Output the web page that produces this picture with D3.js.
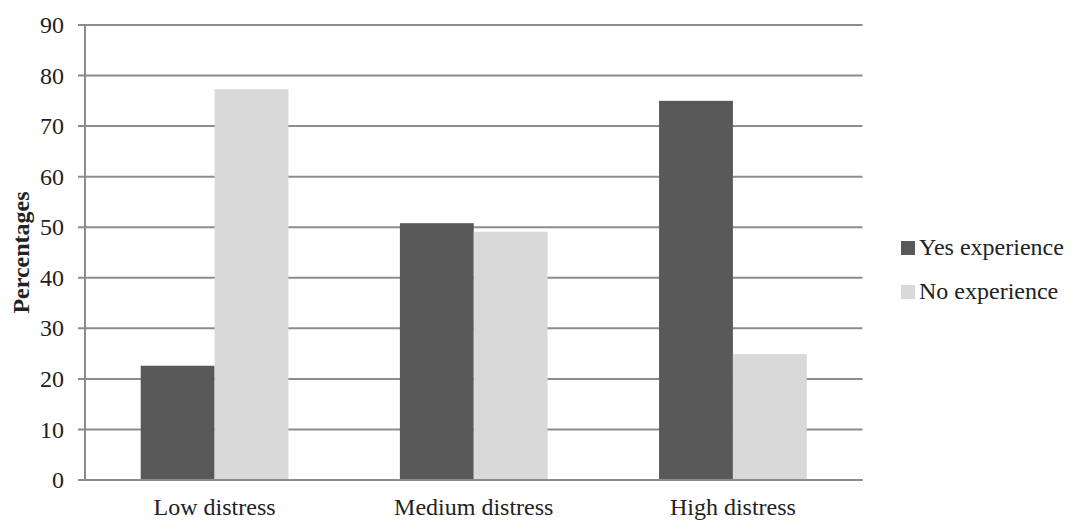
<!DOCTYPE html>
<html><head><meta charset="utf-8">
<script src="https://cdn.jsdelivr.net/npm/d3@7"></script>
<style>body{margin:0;background:#fff}svg{display:block}text{font-family:"Liberation Serif","Times New Roman",serif;fill:#222}</style>
</head><body><svg id="c" width="1075" height="521"></svg>
<script>
const categories = ["Low distress", "Medium distress", "High distress"];
const seriesNames = ["Yes experience", "No experience"];
const yesValues = [22.6, 50.8, 75.0];
const noValues = [77.3, 49.1, 24.9];
const yTicks = [0, 10, 20, 30, 40, 50, 60, 70, 80, 90];
const colors = ["#595959", "#d9d9d9"];

(function () {
const svg = d3.select("#c");
const mLeft = 85, mRight = 862.5, mTop = 25, mBottom = 480;
const x0 = d3.scaleBand().domain(categories).range([mLeft, mRight]).padding(0);
const bw = x0.bandwidth();
const groupW = bw * 0.57;
const x1 = d3.scaleBand().domain(seriesNames).range([0, groupW]).padding(0);
const y = d3.scaleLinear().domain([0, 90]).range([mBottom, mTop]);
const gridColor = "#8c8c8c";

svg.append("g").selectAll("line").data(yTicks).join("line")
  .attr("x1", mLeft - 7).attr("x2", mRight)
  .attr("y1", d => y(d)).attr("y2", d => y(d))
  .attr("stroke", gridColor).attr("stroke-width", 2);

svg.append("g").selectAll("text").data(yTicks).join("text")
  .attr("x", 64).attr("y", d => y(d)).attr("dy", "0.34em")
  .attr("text-anchor", "end").style("font-size", "24px").text(d => d);

const data = categories.map((c, i) => ({c, vals: [yesValues[i], noValues[i]]}));
const g = svg.append("g").selectAll("g").data(data).join("g")
  .attr("transform", d => `translate(${x0(d.c) + (bw - groupW) / 2},0)`);
g.selectAll("rect").data(d => d.vals.map((v, j) => ({v, s: seriesNames[j], j}))).join("rect")
  .attr("x", d => x1(d.s)).attr("width", x1.bandwidth())
  .attr("y", d => y(d.v)).attr("height", d => y(0) - y(d.v))
  .attr("fill", d => colors[d.j]);

svg.append("line").attr("x1", mLeft).attr("x2", mLeft).attr("y1", mTop).attr("y2", mBottom + 1)
  .attr("stroke", gridColor).attr("stroke-width", 2);
svg.append("line").attr("x1", mLeft - 7).attr("x2", mRight).attr("y1", mBottom).attr("y2", mBottom)
  .attr("stroke", gridColor).attr("stroke-width", 2);

svg.append("g").selectAll("text").data(categories).join("text")
  .attr("x", d => x0(d) + bw / 2).attr("y", 515)
  .attr("text-anchor", "middle").style("font-size", "24px").text(d => d);

svg.append("text").attr("transform", `translate(29,${(mTop + mBottom) / 2}) rotate(-90)`)
  .attr("text-anchor", "middle").style("font-size", "24px").style("font-weight", "bold")
  .text("Percentages");

const lg = svg.append("g").selectAll("g").data(seriesNames).join("g")
  .attr("transform", (d, i) => `translate(901,${241 + i * 44})`);
lg.append("rect").attr("width", 14).attr("height", 14).attr("fill", (d, i) => colors[i]);
lg.append("text").attr("x", 18).attr("y", 14).style("font-size", "24px").text(d => d);
})();
</script></body></html>
